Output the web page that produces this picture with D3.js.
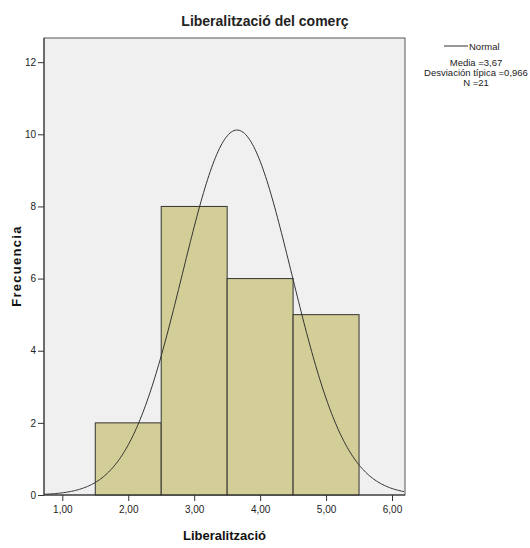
<!DOCTYPE html>
<html lang="es">
<head>
    <meta charset="UTF-8">
    <title>Liberalització del comerç</title>
    <script src="https://d3js.org/d3.v7.min.js"></script>
    <style>
        body { margin: 0; background: #fff; }
        svg { font-family: "Liberation Sans", Arial, sans-serif; }
        .axis path, .axis line { stroke: #333; }
        .axis text { font-size: 10px; fill: #222; }
    </style>
</head>
<body>
    <svg id="svg" width="530" height="548"></svg>
    <script>
        // Histogram bins (lower edge, upper edge) and counts
        const binStart = [1.5, 2.5, 3.5, 4.5];
        const binEnd = [2.5, 3.5, 4.5, 5.5];
        const counts = [2, 8, 6, 5];

        const xTicks = [1, 2, 3, 4, 5, 6];
        const yTicks = [0, 2, 4, 6, 8, 10, 12];

        // legend statistics
        const statLabels = ["Media =3,67", "Desviación típica =0,966", "N =21"];
        // normal curve as drawn in the picture (centre, spread, total count, bin width)
        const curveMean = 3.65;
        const curveSd = 0.828;
        const curveN = 21;
        const binWidth = 1;

        const svg = d3.select("#svg");
        const plotLeft = 44, plotRight = 405, plotTop = 38, plotBottom = 495;

        const x = d3.scaleLinear().domain([0.7225, 6.197]).range([plotLeft, plotRight]);
        const y = d3.scaleLinear().domain([0, 12.67]).range([plotBottom, plotTop]);

        // plot background
        svg.append("rect")
            .attr("x", plotLeft).attr("y", plotTop)
            .attr("width", plotRight - plotLeft).attr("height", plotBottom - plotTop)
            .attr("fill", "#f0f0f0")
            .attr("stroke", "#555");

        // bars
        svg.append("g")
            .selectAll("rect")
            .data(counts)
            .enter().append("rect")
            .attr("x", (d, i) => x(binStart[i]))
            .attr("y", d => y(d))
            .attr("width", (d, i) => x(binEnd[i]) - x(binStart[i]))
            .attr("height", d => y(0) - y(d))
            .attr("fill", "#d3ce97")
            .attr("stroke", "#333")
            .attr("stroke-width", 1);

        // normal curve
        const pdf = v => curveN * binWidth / (curveSd * Math.sqrt(2 * Math.PI)) *
            Math.exp(-0.5 * Math.pow((v - curveMean) / curveSd, 2));
        const xs = d3.range(x.domain()[0], x.domain()[1] + 0.001, 0.02);
        svg.append("path")
            .datum(xs)
            .attr("fill", "none")
            .attr("stroke", "#333")
            .attr("stroke-width", 1)
            .attr("d", d3.line().x(d => x(d)).y(d => y(pdf(d))));

        const fmt = d => d3.format(".2f")(d).replace(".", ",");

        // axes
        const xAxis = svg.append("g")
            .attr("class", "axis")
            .attr("transform", `translate(0,${plotBottom})`)
            .call(d3.axisBottom(x).tickValues(xTicks).tickFormat(fmt).tickSize(6).tickSizeOuter(0));
        xAxis.select(".domain").remove();
        xAxis.selectAll("text").attr("dy", "0.9em");

        const yAxis = svg.append("g")
            .attr("class", "axis")
            .attr("transform", `translate(${plotLeft},0)`)
            .call(d3.axisLeft(y).tickValues(yTicks).tickSize(6).tickSizeOuter(0));
        yAxis.select(".domain").remove();
        yAxis.selectAll("text").attr("x", -8);

        svg.append("line")
            .attr("x1", plotLeft).attr("x2", plotLeft)
            .attr("y1", plotTop).attr("y2", plotBottom)
            .attr("stroke", "#333");
        svg.append("line")
            .attr("x1", plotLeft).attr("x2", plotRight)
            .attr("y1", plotBottom).attr("y2", plotBottom)
            .attr("stroke", "#333");

        // title and axis labels
        svg.append("text")
            .attr("x", 265).attr("y", 26)
            .attr("text-anchor", "middle")
            .attr("font-size", 14)
            .attr("font-weight", "bold")
            .attr("fill", "#222")
            .text("Liberalització del comerç");

        svg.append("text")
            .attr("x", (plotLeft + plotRight) / 2).attr("y", 540)
            .attr("text-anchor", "middle")
            .attr("font-size", 13)
            .attr("font-weight", "bold")
            .attr("fill", "#111")
            .text("Liberalització");

        svg.append("text")
            .attr("transform", "translate(21,266) rotate(-90)")
            .attr("text-anchor", "middle")
            .attr("font-size", 13)
            .attr("font-weight", "bold")
            .attr("letter-spacing", 1.3)
            .attr("fill", "#111")
            .text("Frecuencia");

        // legend
        const legend = svg.append("g");
        legend.append("line")
            .attr("x1", 444).attr("x2", 468)
            .attr("y1", 46).attr("y2", 46)
            .attr("stroke", "#333");
        legend.append("text")
            .attr("x", 469).attr("y", 49.5)
            .attr("font-size", 9.5)
            .attr("fill", "#222")
            .text("Normal");
        legend.selectAll("text.stat")
            .data(statLabels)
            .enter().append("text")
            .attr("class", "stat")
            .attr("x", 476)
            .attr("y", (d, i) => 66 + i * 9.8)
            .attr("text-anchor", "middle")
            .attr("font-size", 9.5)
            .attr("fill", "#222")
            .text(d => d);
    </script>
</body>
</html>
